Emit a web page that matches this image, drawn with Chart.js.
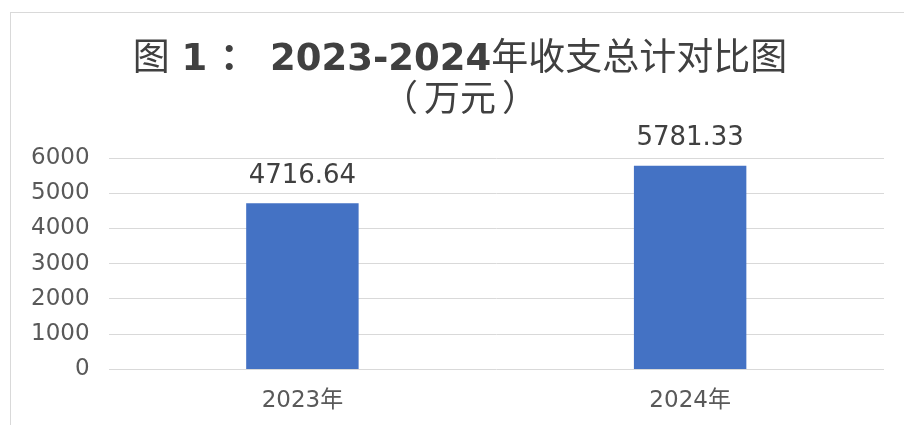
<!DOCTYPE html>
<html lang="zh">
<head>
  <meta charset="UTF-8">
  <title>收支总计对比图</title>
  <script src="https://cdn.jsdelivr.net/npm/chart.js"></script>
  <style>
    html, body { margin: 0; padding: 0; background: #fff; }
  </style>
</head>
<body>
  <canvas id="grafico" width="904" height="425"></canvas>

  <script>
    // datos
    const categorias = ["2023年", "2024年"];
    const valores = [4716.64, 5781.33];
    const ticksY = [0, 1000, 2000, 3000, 4000, 5000, 6000];
    const tituloPartes = [["图 ", "normal"], ["1 ： 2023-2024", "bold"], ["年收支总计对比图", "normal"]];
    const subtitulo = ["（", "万元", "）"];

    const fuente = '"DejaVu Sans", "Noto Sans CJK SC", sans-serif';

    // marco, título y etiquetas de datos
    const extras = {
      id: "extras",
      beforeDraw(chart) {
        const ctx = chart.ctx;
        ctx.save();
        ctx.strokeStyle = "#d9d9d9";
        ctx.lineWidth = 1;
        ctx.strokeRect(10.5, 12.5, 2000, 2000);
        ctx.restore();
      },
      afterDraw(chart) {
        const ctx = chart.ctx;
        ctx.save();
        ctx.fillStyle = "#404040";
        ctx.textBaseline = "alphabetic";
        // título línea 1
        const size = 37;
        let total = 0;
        tituloPartes.forEach(p => {
          ctx.font = p[1] + " " + size + "px " + fuente;
          total += ctx.measureText(p[0]).width;
        });
        let x = 460 - total / 2;
        ctx.textAlign = "left";
        tituloPartes.forEach(p => {
          ctx.font = p[1] + " " + size + "px " + fuente;
          ctx.fillText(p[0], x, 70);
          x += ctx.measureText(p[0]).width;
        });
        // línea 2
        ctx.font = 'normal 36px "Noto Sans CJK SC", sans-serif';
        ctx.textAlign = "center";
        ctx.fillText(subtitulo[1], 460, 111);
        const w = ctx.measureText(subtitulo[1]).width / 2;
        ctx.textAlign = "right";
        ctx.fillText(subtitulo[0], 460 - w - 6, 111);
        ctx.textAlign = "left";
        ctx.fillText(subtitulo[2], 460 + w + 6, 111);

        // etiquetas
        ctx.font = "26px " + fuente;
        ctx.textAlign = "center";
        ctx.textBaseline = "bottom";
        chart.getDatasetMeta(0).data.forEach((bar, i) => {
          ctx.fillText(valores[i].toFixed(2), bar.x, bar.y - 14);
        });
        ctx.restore();
      }
    };

    const ctx = document.getElementById("grafico").getContext("2d");
    new Chart(ctx, {
      type: "bar",
      data: {
        labels: categorias,
        datasets: [{
          data: valores,
          backgroundColor: "#4472c4",
          barPercentage: 0.58,
          categoryPercentage: 0.5
        }]
      },
      options: {
        responsive: false,
        animation: false,
        layout: { padding: { top: 158, right: 20, left: 12, bottom: 0 } },
        plugins: {
          legend: { display: false },
          tooltip: { enabled: false }
        },
        scales: {
          x: {
            grid: { display: false },
            border: { display: false },
            ticks: { color: "#595959", font: { family: fuente, size: 23 }, padding: 10 }
          },
          y: {
            min: 0,
            max: 6000,
            afterBuildTicks: axis => { axis.ticks = ticksY.map(v => ({ value: v })); },
            grid: { color: "#d9d9d9", drawTicks: false },
            border: { display: false },
            ticks: {
              color: "#595959",
              font: { family: fuente, size: 23 },
              padding: 19,
              callback: v => String(v)
            }
          }
        }
      },
      plugins: [extras]
    });
  </script>
</body>
</html>
